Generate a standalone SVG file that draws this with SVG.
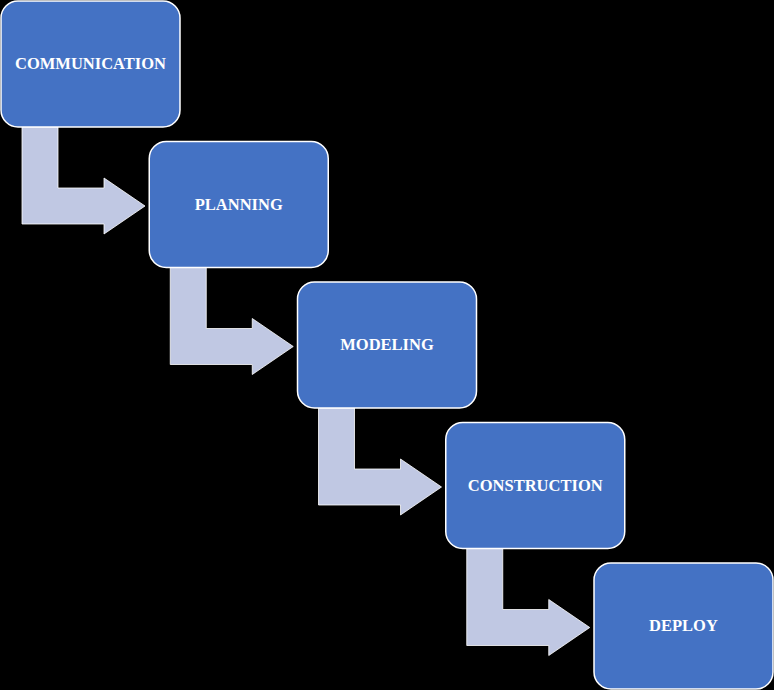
<svg xmlns="http://www.w3.org/2000/svg" width="774" height="690" viewBox="0 0 774 690">
<style>
.box{fill:#4472C4;stroke:#FFFFFF;stroke-width:1.5}
.arr{fill:#C0C8E3;stroke:#FFFFFF;stroke-width:0.8}
.lbl{font-family:"Liberation Serif","Times New Roman",serif;font-weight:bold;font-size:16.5px;fill:#FFFFFF;text-anchor:middle}
</style>
<defs>
<path id="bend" d="M21,126 L57,126 L57,187 L103,187 L103,177 L144,205 L103,233 L103,223 L21,223 Z"/>
</defs>
<rect width="774" height="690" fill="#000000"/>
<g id="connectors">
<use href="#bend" class="arr" transform="translate(1,1)"/>
<use href="#bend" class="arr" transform="translate(149.25,141.5)"/>
<use href="#bend" class="arr" transform="translate(297.5,282)"/>
<use href="#bend" class="arr" transform="translate(445.75,422.5)"/>
</g>
<g id="communication" transform="translate(1,1)">
<rect class="box" x="0" y="0" width="179" height="126" rx="17"/>
<text class="lbl" x="89.5" y="68">COMMUNICATION</text>
</g>
<g id="planning" transform="translate(149.25,141.5)">
<rect class="box" x="0" y="0" width="179" height="126" rx="17"/>
<text class="lbl" x="89.5" y="68">PLANNING</text>
</g>
<g id="modeling" transform="translate(297.5,282)">
<rect class="box" x="0" y="0" width="179" height="126" rx="17"/>
<text class="lbl" x="89.5" y="68">MODELING</text>
</g>
<g id="construction" transform="translate(445.75,422.5)">
<rect class="box" x="0" y="0" width="179" height="126" rx="17"/>
<text class="lbl" x="89.5" y="68">CONSTRUCTION</text>
</g>
<g id="deploy" transform="translate(594,563)">
<rect class="box" x="0" y="0" width="179" height="126" rx="17"/>
<text class="lbl" x="89.5" y="68">DEPLOY</text>
</g>
</svg>
